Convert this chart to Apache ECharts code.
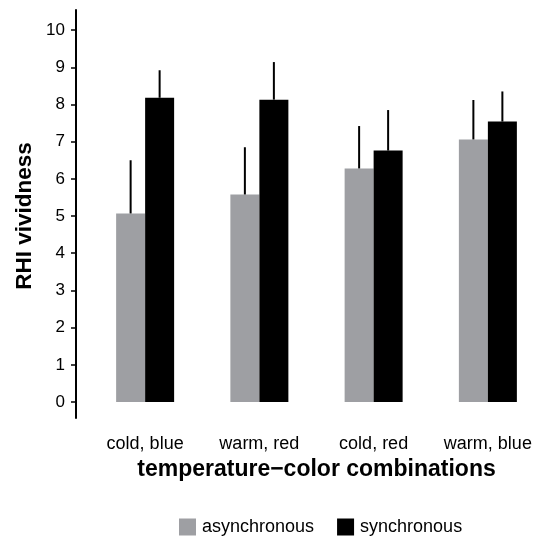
<!DOCTYPE html>
<html>
<head>
<meta charset="utf-8">
<script src="https://cdn.jsdelivr.net/npm/echarts@6/dist/echarts.min.js"></script>
<style>html,body{margin:0;padding:0;background:#fff;}#c{width:534px;height:537px;}</style>
</head>
<body>
<div id="c"></div>
<script>
const categories = ['cold, blue', 'warm, red', 'cold, red', 'warm, blue'];
const asyncMeans = [5.07, 5.58, 6.28, 7.06];
const asyncUpper = [6.50, 6.85, 7.42, 8.12];
const syncMeans = [8.18, 8.13, 6.76, 7.54];
const syncUpper = [8.92, 9.14, 7.85, 8.35];
const yTicks = [0, 1, 2, 3, 4, 5, 6, 7, 8, 9, 10];

const FONT = '"Liberation Sans", Arial, sans-serif';
const BAR_W = 29;

function errSeries(means, upper, side) {
  return {
    type: 'custom',
    name: 'err' + side,
    silent: true,
    z: 5,
    data: means.map((m, i) => [i, m, upper[i]]),
    renderItem: function (params, api) {
      const p0 = api.coord([api.value(0), api.value(1)]);
      const p1 = api.coord([api.value(0), api.value(2)]);
      const off = side * BAR_W / 2;
      return {
        type: 'line',
        shape: { x1: p0[0] + off, y1: p0[1], x2: p1[0] + off, y2: p1[1] },
        style: { stroke: '#000', lineWidth: 2 }
      };
    }
  };
}

const chart = echarts.init(document.getElementById('c'), null, { renderer: 'canvas' });
chart.setOption({
  animation: false,
  backgroundColor: '#fff',
  textStyle: { fontFamily: FONT },
  grid: { left: 88, right: -11, top: 10, bottom: 119, containLabel: false, outerBoundsMode: 'none' },
  xAxis: {
    type: 'category',
    data: categories,
    axisLine: { show: false },
    axisTick: { show: false },
    axisLabel: { color: '#000', fontSize: 18, fontFamily: FONT, margin: 17, interval: 0 },
    name: 'temperature\u2212color combinations',
    nameLocation: 'middle',
    nameGap: 40,
    nameTextStyle: { color: '#000', fontSize: 23, fontWeight: 'bold', fontFamily: FONT }
  },
  yAxis: {
    type: 'value',
    min: -0.43,
    max: 10.54,
    offset: 12,
    splitLine: { show: false },
    axisLine: { show: true, lineStyle: { color: '#000', width: 2 } },
    axisTick: { show: true, length: 5, customValues: yTicks, lineStyle: { color: '#000', width: 1.5 } },
    axisLabel: { color: '#000', fontSize: 17, fontFamily: FONT, margin: 11, customValues: yTicks }
  },
  legend: {
    data: ['asynchronous', 'synchronous'],
    left: 179,
    top: 518,
    padding: 0,
    icon: 'rect',
    itemWidth: 17,
    itemHeight: 17,
    itemGap: 23,
    textStyle: { color: '#000', fontSize: 18, fontFamily: FONT, padding: [0, 0, 0, 1] }
  },
  graphic: [{
    type: 'text',
    x: 25,
    y: 216,
    rotation: Math.PI / 2,
    style: {
      text: 'RHI vividness',
      fill: '#000',
      font: 'bold 22.5px ' + FONT,
      textAlign: 'center',
      textVerticalAlign: 'middle'
    }
  }],
  series: [
    {
      name: 'asynchronous', type: 'bar', data: asyncMeans, barWidth: BAR_W, barGap: '0%',
      itemStyle: { color: '#9e9fa3' }
    },
    {
      name: 'synchronous', type: 'bar', data: syncMeans, barWidth: BAR_W, barGap: '0%',
      itemStyle: { color: '#000' }
    },
    errSeries(asyncMeans, asyncUpper, -1),
    errSeries(syncMeans, syncUpper, 1)
  ]
});
</script>
</body>
</html>
